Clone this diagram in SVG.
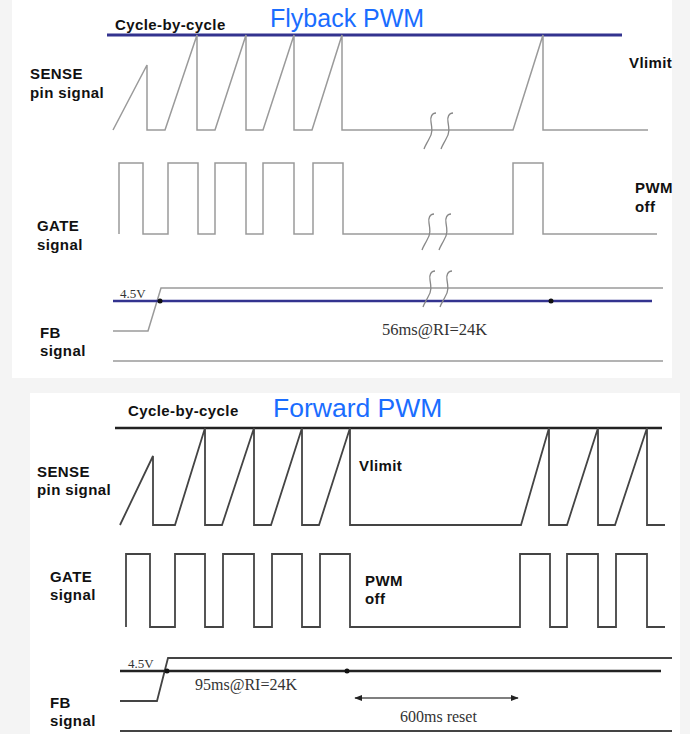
<svg xmlns="http://www.w3.org/2000/svg" width="690" height="734" viewBox="0 0 690 734">
<style>
.lbl{font-family:"Liberation Sans",Arial,sans-serif;font-weight:bold;font-size:15px;letter-spacing:0.4px;fill:#111}
.ttl{font-family:"Liberation Sans",Arial,sans-serif;font-size:25px;fill:#1a6dff}
.ser{font-family:"Liberation Serif","Times New Roman",serif;fill:#333}
.w1{fill:none;stroke:#9a9a9a;stroke-width:1.5}
.w2{fill:none;stroke:#444;stroke-width:1.8}
.sq{fill:none;stroke:#888;stroke-width:1.3}
</style>
<defs>
<marker id="ah" viewBox="0 0 10 10" refX="9" refY="5" markerWidth="6" markerHeight="6" orient="auto-start-reverse"><path d="M0,1 L10,5 L0,9 z" fill="#222"/></marker>
<path id="squig" d="M12,0 C8,0 6,4 7,9 C8,15 9,20 5,26 C3,30 1,33 0,36"/>
</defs>
<rect width="690" height="734" fill="#f4f4f4"/>
<rect x="12" y="0" width="660" height="378" fill="#fff"/>
<rect x="30" y="393" width="650" height="341" fill="#fff"/>

<g id="flyback">
<text class="ttl" x="270" y="27">Flyback PWM</text>
<text class="lbl" x="115" y="30">Cycle-by-cycle</text>
<text class="lbl" x="629" y="68">Vlimit</text>
<text class="lbl" x="30" y="79">SENSE</text>
<text class="lbl" x="30" y="98">pin signal</text>
<text class="lbl" x="37" y="231">GATE</text>
<text class="lbl" x="37" y="250">signal</text>
<text class="lbl" x="635" y="193">PWM</text>
<text class="lbl" x="635" y="212">off</text>
<text class="lbl" x="40" y="338">FB</text>
<text class="lbl" x="40" y="356">signal</text>
<text class="ser" x="120" y="298" font-size="13">4.5V</text>
<text class="ser" x="382" y="335" font-size="16.5">56ms@RI=24K</text>
</g>

<g id="forward">
<text class="ttl" x="273" y="417" style="font-size:26.5px">Forward PWM</text>
<text class="lbl" x="128" y="416">Cycle-by-cycle</text>
<text class="lbl" x="359" y="471">Vlimit</text>
<text class="lbl" x="37" y="477">SENSE</text>
<text class="lbl" x="37" y="495">pin signal</text>
<text class="lbl" x="50" y="582">GATE</text>
<text class="lbl" x="50" y="600">signal</text>
<text class="lbl" x="365" y="586">PWM</text>
<text class="lbl" x="365" y="604">off</text>
<text class="lbl" x="50" y="708">FB</text>
<text class="lbl" x="50" y="726">signal</text>
<text class="ser" x="128" y="668" font-size="13">4.5V</text>
<text class="ser" x="195" y="690" font-size="16">95ms@RI=24K</text>
<text class="ser" x="400" y="722" font-size="16">600ms reset</text>
</g>

<g id="connectors">
<!-- flyback -->
<line x1="107" y1="35" x2="622" y2="35" stroke="#33338f" stroke-width="3"/>
<path class="w1" d="M113,130 L147,65 V130 H165 L197,35 V130 H215 L246,35 V130 H263 L294,35 V130 H312 L342,35 V130 H513 L543,35 V130 H648"/>
<path class="w1" d="M119,234 V163 H143 V234 H168 V163 H198 V234 H215 V163 H246 V234 H263 V163 H294 V234 H313 V163 H343 V234 H513 V163 H543 V234 H657"/>
<path class="w1" d="M113,331 H148 L161,288 H663"/>
<line class="w1" x1="113" y1="361" x2="663" y2="361"/>
<line x1="113" y1="301" x2="652" y2="301" stroke="#33338f" stroke-width="2.5"/>
<circle cx="160" cy="301" r="2.5" fill="#111"/>
<circle cx="551" cy="301" r="2.5" fill="#111"/>
<g class="sq">
<use href="#squig" x="424" y="113"/><use href="#squig" x="441" y="113"/>
<use href="#squig" x="422" y="214"/><use href="#squig" x="439" y="214"/>
<use href="#squig" x="423" y="271"/><use href="#squig" x="440" y="271"/>
</g>
<!-- forward -->
<line x1="115" y1="428" x2="662" y2="428" stroke="#222" stroke-width="2.5"/>
<path class="w2" d="M120,525 L153,456 V525 H175 L205,428 V525 H222 L254,428 V525 H271 L302,428 V525 H319 L350,428 V525 H521 L549,428 V525 H567 L598,428 V525 H615 L647,428 V525 H665"/>
<path class="w2" d="M126,627 V554 H150 V627 H175 V554 H205 V627 H223 V554 H254 V627 H272 V554 H302 V627 H320 V554 H350 V627 H520 V554 H550 V627 H567 V554 H598 V627 H616 V554 H647 V627 H665"/>
<path class="w2" d="M120,701 H157 L168,658 H672"/>
<line class="w2" x1="120" y1="731" x2="672" y2="731"/>
<line x1="120" y1="671" x2="661" y2="671" stroke="#222" stroke-width="2.5"/>
<circle cx="167" cy="671" r="2.5" fill="#111"/>
<circle cx="347" cy="671" r="2.5" fill="#111"/>
<line x1="355" y1="698" x2="518" y2="698" stroke="#555" stroke-width="1.3" marker-start="url(#ah)" marker-end="url(#ah)"/>
</g>
</svg>
